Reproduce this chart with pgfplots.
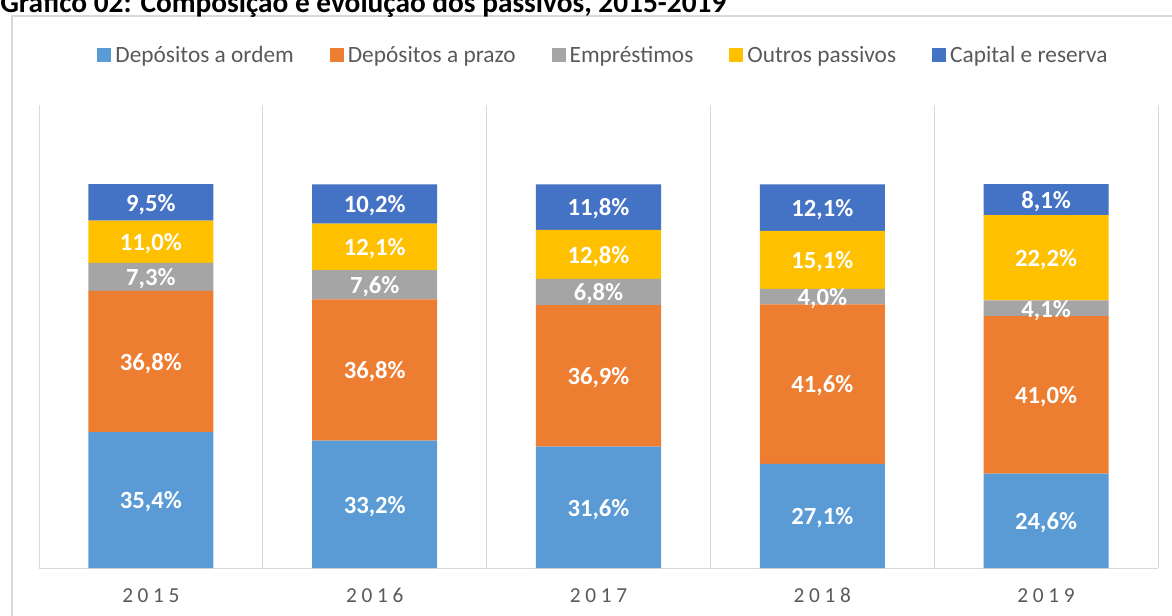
\documentclass[border=0pt]{standalone}
\usepackage{fontspec}
\setmainfont{Carlito}
\usepackage{pgfplots}
\usepackage{pgfplotstable}
\pgfplotsset{compat=1.18}
\definecolor{cordem}{HTML}{5B9BD5}
\definecolor{cprazo}{HTML}{ED7D31}
\definecolor{cemp}{HTML}{A5A5A5}
\definecolor{coutros}{HTML}{FFC000}
\definecolor{ccap}{HTML}{4472C4}
\definecolor{txtgray}{HTML}{595959}
\definecolor{gridgray}{HTML}{D9D9D9}

\pgfplotstableread{
x ordem prazo emp outros capital
0 35.4 36.8 7.3 11.0 9.5
1 33.2 36.8 7.6 12.1 10.2
2 31.6 36.9 6.8 12.8 11.8
3 27.1 41.6 4.0 15.1 12.1
4 24.6 41.0 4.1 22.2 8.1
}\data

\pgfplotsset{
  seg/.style={
    fill=#1, draw=none,
    nodes near coords={\pgfmathprintnumber[fixed,fixed zerofill,precision=1,use comma,assume math mode=true]{\val}\%},
    every node near coord/.append style={anchor=center, yshift=-1.5pt, text=white, font=\fontsize{18.5}{21}\selectfont\bfseries, inner sep=0pt},
  },
}

\begin{document}
\begin{tikzpicture}
\begin{scope}
\clip (0,0) rectangle (879pt,461.25pt);
\draw[gridgray, line width=1.5pt] (9pt,-10pt) -- (9pt,449.25pt) -- (900pt,449.25pt);
\node[anchor=base west, inner sep=0pt, font=\fontsize{22}{26}\selectfont\bfseries] at (0pt,451.5pt) {Gráfico 02: Composição e evolução dos passivos, 2015-2019};
\begin{axis}[
  at={(29.25pt,35.25pt)}, anchor=south west,
  scale only axis, width=839.25pt, height=347.25pt,
  ybar stacked, bar width=0.5586,
  xmin=-0.5, xmax=4.5, ymin=0, ymax=120.6,
  axis x line*=bottom, axis y line=none,
  x axis line style={-, draw=gridgray, line width=0.75pt},
  xtick={0,1,2,3,4},
  xticklabels={2\hspace{3.5pt}0\hspace{3.5pt}1\hspace{3.5pt}5,2\hspace{3.5pt}0\hspace{3.5pt}1\hspace{3.5pt}6,2\hspace{3.5pt}0\hspace{3.5pt}1\hspace{3.5pt}7,2\hspace{3.5pt}0\hspace{3.5pt}1\hspace{3.5pt}8,2\hspace{3.5pt}0\hspace{3.5pt}1\hspace{3.5pt}9},
  xticklabel style={inner sep=0pt, anchor=north, yshift=-15pt, text=txtgray, font=\fontsize{16}{19}\selectfont},
  major tick length=0pt, minor tick length=0pt,
  xtick style={draw=none},
  minor xtick={-0.5,0.5,1.5,2.5,3.5,4.5},
  xminorgrids, minor grid style={draw=gridgray, line width=0.75pt},
  ytick=\empty,
  legend columns=5,
  legend image code/.code={\fill[#1] (0pt,-5.25pt) rectangle (10.5pt,5.25pt);},
  legend style={draw=none, fill=none, at={(0.5,1)}, anchor=center, yshift=37.5pt, xshift=4.5pt,
    font=\fontsize{17.5}{20}\selectfont, text=txtgray,
    nodes={inner xsep=3pt, inner ysep=0pt},
    /tikz/every even column/.append style={column sep=24pt}},
  legend cell align=left,
]
\addplot[seg=cordem, visualization depends on={\thisrow{ordem} \as \val}] table[x=x,y=ordem]{\data};
\addplot[seg=cprazo, visualization depends on={\thisrow{prazo} \as \val}] table[x=x,y=prazo]{\data};
\addplot[seg=cemp, visualization depends on={\thisrow{emp} \as \val}] table[x=x,y=emp]{\data};
\addplot[seg=coutros, visualization depends on={\thisrow{outros} \as \val}] table[x=x,y=outros]{\data};
\addplot[seg=ccap, visualization depends on={\thisrow{capital} \as \val}] table[x=x,y=capital]{\data};
\legend{Depósitos a ordem, Depósitos a prazo, Empréstimos, Outros passivos, Capital e reserva}
\end{axis}
\end{scope}
\pgfresetboundingbox
\useasboundingbox (0,0) rectangle (879pt,461.25pt);
\end{tikzpicture}
\end{document}
